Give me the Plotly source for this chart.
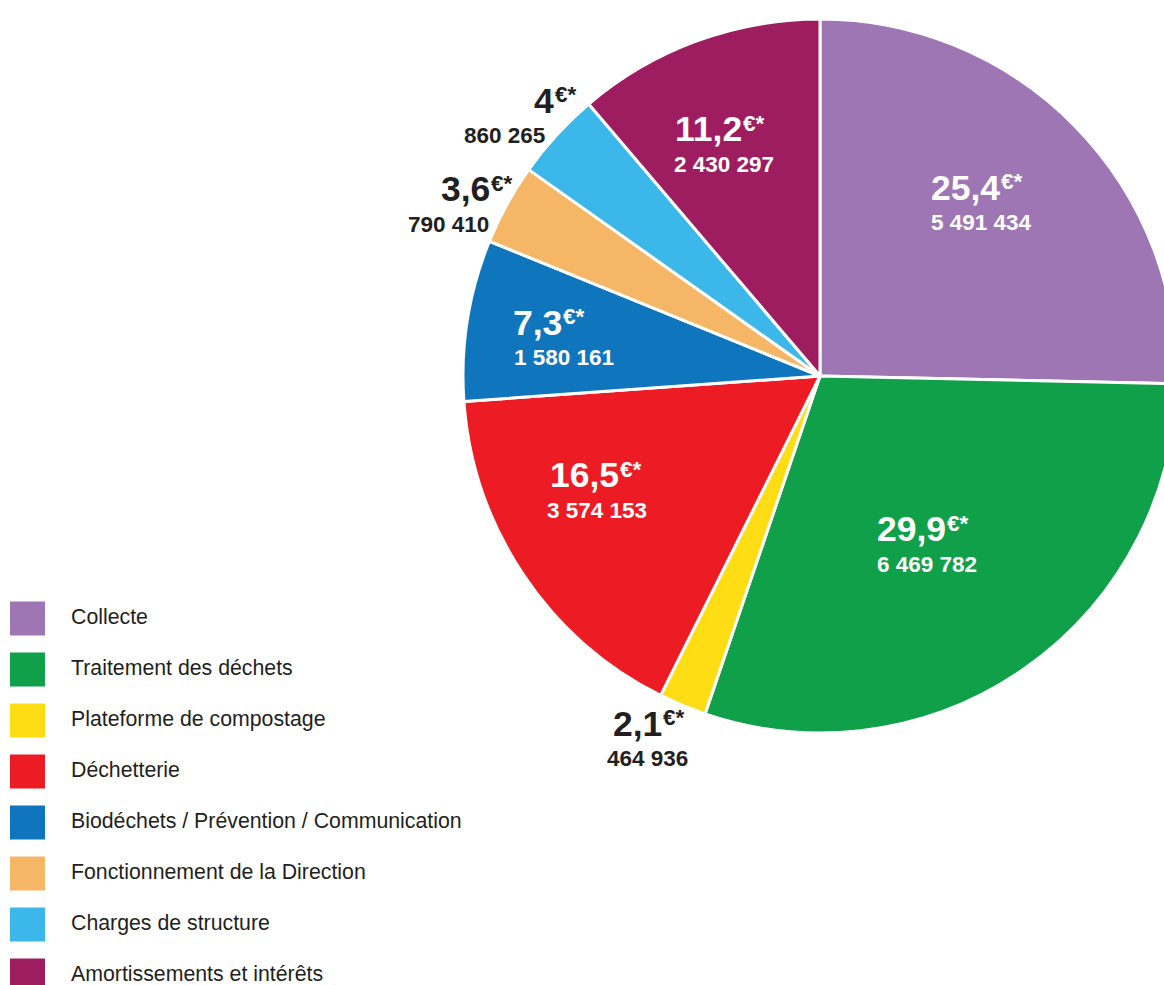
import math
import plotly.graph_objects as go

# ---------------- data ----------------
categories = [
    "Collecte",
    "Traitement des déchets",
    "Plateforme de compostage",
    "Déchetterie",
    "Biodéchets / Prévention / Communication",
    "Fonctionnement de la Direction",
    "Charges de structure",
    "Amortissements et intérêts",
]
montants = [5491434, 6469782, 464936, 3574153, 1580161, 790410, 860265, 2430297]
cout_par_habitant = [25.4, 29.9, 2.1, 16.5, 7.3, 3.6, 4.0, 11.2]

# ---------------- styles ----------------
colors = ["#9E76B4", "#10A04A", "#FFDD15", "#ED1C24",
          "#0F75BC", "#F5B766", "#3BB8E9", "#9E1D60"]
label_inside = [True, True, False, True, True, False, False, True]
label_radius = [0.657, 0.563, 1.128, 0.695, 0.744, 1.107, 1.086, 0.699]
label_angle_shift = [-2.6, 2.8, 2.5, 5.8, -1.2, -3.3, -0.7, -2.9]
big_dx = [-1.5, -3, 1, -4, -7, 15, 26, -2]
amt_dx = [1.5, 0, -1, -3.5, 7, -15, -26, 2]

DARK = "#231F20"
FONT = "Liberation Sans, Arial, sans-serif"
BIG = 35.5
SUP = 22.5
AMT = 22.5

# figure is wider than the window so the pie is cut by the right edge, as in the reference
W, H = 1180, 985
CX, CY, R = 820, 376, 357

# Liberation Sans Bold advance widths (em)
CHAR_W = {c: 0.556 for c in "0123456789"}
CHAR_W.update({",": 0.278, "€": 0.556, "*": 0.389, " ": 0.278})


def text_w(s, size):
    return sum(CHAR_W.get(c, 0.556) for c in s) * size


def px_to_paper(x, y):
    return x / W, 1 - y / H


def fr_int(v):
    return f"{v:,}".replace(",", " ")


def fr_dec(v):
    return ("%g" % v).replace(".", ",")


fig = go.Figure()
fig.add_trace(go.Pie(
    labels=categories,
    values=montants,
    sort=False,
    direction="clockwise",
    rotation=0,
    marker=dict(colors=colors, line=dict(color="white", width=3)),
    textinfo="none",
    hoverinfo="label+value",
    showlegend=False,
    domain=dict(x=[(CX - R) / W, (CX + R) / W],
                y=[1 - (CY + R) / H, 1 - (CY - R) / H]),
))

annotations = []
shapes = []

# slice labels positioned from the slice geometry
total = sum(montants)
cum = 0
for i, v in enumerate(montants):
    frac = v / total
    mid = (cum + frac / 2) * 360 + label_angle_shift[i]
    cum += frac
    a = math.radians(mid)
    ax = CX + label_radius[i] * R * math.sin(a)
    ay = CY - label_radius[i] * R * math.cos(a)
    col = "white" if label_inside[i] else DARK

    num = fr_dec(cout_par_habitant[i])
    wd = text_w(num, BIG)
    we = text_w("€*", SUP)
    gx = ax + big_dx[i]
    split = gx - (wd + we) / 2 + wd
    bx, by = px_to_paper(split, ay - 17)
    annotations.append(dict(
        x=bx, y=by, xref="paper", yref="paper", xanchor="right", yanchor="middle",
        text=f"<b>{num}</b>", showarrow=False,
        font=dict(family=FONT, size=BIG, color=col)))
    ex, ey = px_to_paper(split - 3, ay - 23)
    annotations.append(dict(
        x=ex, y=ey, xref="paper", yref="paper", xanchor="left", yanchor="middle",
        text="<b>€*</b>", showarrow=False,
        font=dict(family=FONT, size=SUP, color=col)))

    mx, my = px_to_paper(ax + amt_dx[i], ay + 18)
    annotations.append(dict(
        x=mx, y=my, xref="paper", yref="paper", xanchor="center", yanchor="middle",
        text=f"<b>{fr_int(v)}</b>",
        showarrow=False, font=dict(family=FONT, size=AMT, color=col)))

# custom legend
for i, name in enumerate(categories):
    y0 = 601.5 + 51 * i
    x0p, y0p = px_to_paper(10, y0)
    x1p, y1p = px_to_paper(45, y0 + 34)
    shapes.append(dict(type="rect", xref="paper", yref="paper",
                       x0=x0p, x1=x1p, y0=y1p, y1=y0p,
                       fillcolor=colors[i], line=dict(width=0)))
    tx, ty = px_to_paper(69, y0 + 15)
    annotations.append(dict(
        x=tx, y=ty, xref="paper", yref="paper", xanchor="left", yanchor="middle",
        text=name, showarrow=False, font=dict(family=FONT, size=21.3, color=DARK)))

fig.update_layout(
    width=W, height=H,
    margin=dict(l=0, r=0, t=0, b=0),
    paper_bgcolor="white",
    plot_bgcolor="white",
    annotations=annotations,
    shapes=shapes,
)

# place the figure at the page origin without scrollbars
fig.write_html(
    "out.html",
    config={"displayModeBar": False},
    post_script="document.body.style.margin='0';"
                "document.body.style.overflow='hidden';",
)
